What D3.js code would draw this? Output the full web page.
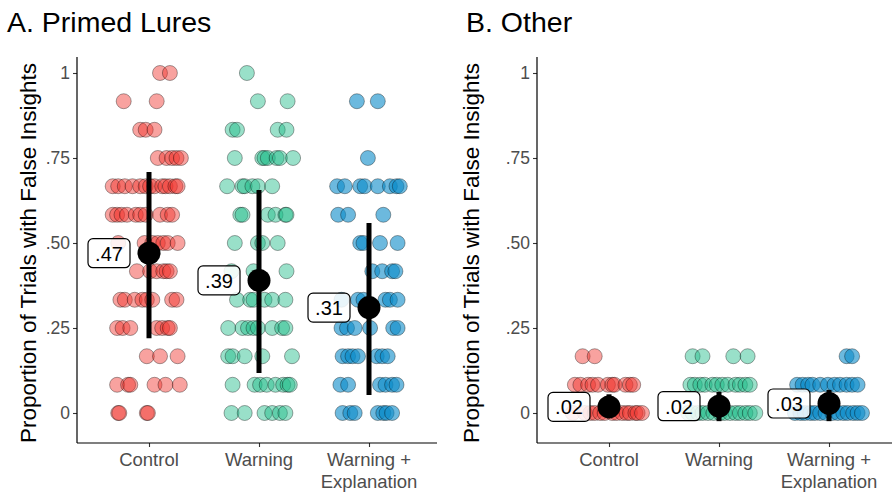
<!DOCTYPE html>
<html><head><meta charset="utf-8">
<script src="https://cdn.jsdelivr.net/npm/d3@7"></script>
<style>body{margin:0;background:#fff;} svg{display:block;font-family:"Liberation Sans",Arial,sans-serif;}</style>
</head><body>
<svg id="chart" width="893" height="493"></svg>
<script>
// ---------- data ----------
const categories = ["Control", "Warning", "Warning + Explanation"];
const categoryLines = [["Control"], ["Warning"], ["Warning +", "Explanation"]];
const yTicks = [0, 0.25, 0.5, 0.75, 1];
const yTickLabels = ["0", ".25", ".50", ".75", "1"];
const panelTitles = ["A. Primed Lures", "B. Other"];
const yAxisTitle = "Proportion of Trials with False Insights";

// rows: [proportion, [horizontal jitter in category steps]]
const lureControl = [
  [1, [.10, .19]], [.917, [-.23, .07]], [.833, [-.08, -.03, .05]],
  [.75, [.08, .16, .21, .25, .29]],
  [.667, [-.33, -.28, -.22, -.15, -.08, -.03, .01, .05, .12, .15, .19, .24, .26]],
  [.583, [-.33, -.29, -.25, -.2, -.12, -.08, -.03, .1, .17, .21]],
  [.5, [-.28, -.04, .03, .08, .13, .17, .26]],
  [.417, [-.11, .01, .07, .13, .16, .19]],
  [.333, [-.26, -.22, -.13, -.06, -.02, .03, .21, .25]],
  [.25, [-.29, -.24, -.17, .07, .12, .17, .19]],
  [.167, [-.02, .1, .26]],
  [.083, [-.29, -.19, -.17, .05, .15, .28]],
  [0, [-.28, -.27, -.02, -.01]]
];
const lureWarning = [
  [1, [-.11]], [.917, [-.01, .26]], [.833, [-.24, -.2, .17, .25]],
  [.75, [-.22, .03, .05, .08, .16, .19, .31]],
  [.667, [-.29, -.15, -.13, -.06, -.01, .12]],
  [.583, [-.17, -.15, .08, .15, .24, .25]],
  [.5, [-.22, -.01, .03, .17]],
  [.417, [-.25, -.05, .25]],
  [.333, [-.2, -.08, -.05, .05, .12, .24]],
  [.25, [-.28, -.15, -.1, -.05, -.01, .12, .21, .24]],
  [.167, [-.28, -.24, -.13, .03, .3]],
  [.083, [-.24, -.04, .01, .07, .15, .22, .26, .28]],
  [0, [-.25, -.13, .05, .12, .19, .24]]
];
const lureExplanation = [
  [.917, [-.11, .08]], [.75, [-.01]],
  [.667, [-.29, -.22, -.08, -.04, .08, .19, .25, .28]],
  [.583, [-.28, -.19, .13]],
  [.5, [-.08, -.05, .1, .26]],
  [.417, [.03, .12, .21, .24]],
  [.333, [-.25, -.1, -.05, .15, .19, .26]],
  [.25, [-.25, -.2, -.13, .01, .22, .26]],
  [.167, [-.24, -.19, -.15, -.1, .07, .12, .17]],
  [.083, [-.26, -.19, .1, .15, .21, .25]],
  [0, [-.24, -.17, -.13, .08, .13, .16, .21]]
];
const otherControl = [
  [.167, [-.24, -.13]],
  [.083, [-.31, -.26, -.19, -.15, -.1, -.01, .03, .05, .15, .19, .22]],
  [0, [-.33, -.22, -.17, -.13, -.08, -.04, .03, .07, .12, .16, .19, .24, .26, .3]]
];
const otherWarning = [
  [.167, [-.24, -.15, .13, .26]],
  [.083, [-.26, -.22, -.17, -.13, -.06, -.02, .03, .08, .15, .19, .24, .28]],
  [0, [-.28, -.24, -.19, -.15, -.1, -.05, .01, .05, .1, .15, .19, .24, .28, .33]]
];
const otherExplanation = [
  [.167, [.16, .21]],
  [.083, [-.29, -.24, -.19, -.15, -.08, -.01, .05, .1, .16, .21, .26]],
  [0, [-.31, -.26, -.22, -.17, -.13, -.08, -.03, .03, .08, .13, .17, .22, .26, .3]]
];

const lureMeans = [.47, .39, .31];
const lureLow = [.22, .118, .053];
const lureHigh = [.709, .656, .559];
const lureMeanLabels = [".47", ".39", ".31"];

const otherMeans = [.018, .02, .028];
const otherLow = [-.015, -.024, -.024];
const otherHigh = [.055, .062, .068];
const otherMeanLabels = [".02", ".02", ".03"];

const groupColors = ["#f0302a", "#1dba88", "#0a8ac8"];
const groupOpacity = [0.45, 0.45, 0.6];

// ---------- drawing ----------
const svg = d3.select("#chart");

const panels = [
  {title: panelTitles[0], titleX: 7, axisX: 77, right: 437, first: 149, last: 369, labelX: 28,
   groups: [lureControl, lureWarning, lureExplanation], means: lureMeans, low: lureLow, high: lureHigh, lbl: lureMeanLabels},
  {title: panelTitles[1], titleX: 466, axisX: 537, right: 892, first: 609, last: 829, labelX: 471,
   groups: [otherControl, otherWarning, otherExplanation], means: otherMeans, low: otherLow, high: otherHigh, lbl: otherMeanLabels}
];

const y = d3.scaleLinear().domain([0, 1]).range([413, 73]);
const yTop = 57, yBottom = 443;

panels.forEach(p => {
  const g = svg.append("g");
  const x = d3.scalePoint().domain(categories).range([p.first, p.last]);
  const step = x.step();

  // title
  g.append("text").attr("x", p.titleX).attr("y", 32).attr("font-size", 28.5)
    .attr("fill", "#000").text(p.title);

  // y axis title
  g.append("text").attr("transform", `translate(${p.labelX},${253}) rotate(-90)`)
    .attr("text-anchor", "middle").attr("dominant-baseline", "central")
    .attr("font-size", 22.5).attr("fill", "#000").text(yAxisTitle);

  // y axis
  const ya = d3.axisLeft(y).tickValues(yTicks).tickFormat((d, i) => yTickLabels[i]).tickSize(4).tickSizeOuter(0);
  const yg = g.append("g").attr("transform", `translate(${p.axisX},0)`).call(ya);
  yg.select(".domain").remove();
  yg.selectAll(".tick line").attr("stroke", "#333").attr("stroke-width", 1.1);
  yg.selectAll(".tick text").attr("fill", "#4d4d4d").attr("font-size", 17.5)
    .attr("font-family", "Liberation Sans, Arial, sans-serif").attr("x", -7);
  g.append("line").attr("x1", p.axisX).attr("x2", p.axisX).attr("y1", yTop).attr("y2", yBottom)
    .attr("stroke", "#000").attr("stroke-width", 1.2);

  // x axis
  const xa = d3.axisBottom(x).tickSize(4).tickSizeOuter(0).tickFormat("");
  const xg = g.append("g").attr("transform", `translate(0,${yBottom})`).call(xa);
  xg.select(".domain").remove();
  xg.selectAll(".tick line").attr("stroke", "#333").attr("stroke-width", 1.1);
  g.append("line").attr("x1", p.axisX).attr("x2", p.right).attr("y1", yBottom).attr("y2", yBottom)
    .attr("stroke", "#000").attr("stroke-width", 1.2);
  categories.forEach((c, i) => {
    const t = g.append("text").attr("x", x(c)).attr("y", 466).attr("text-anchor", "middle")
      .attr("font-size", 18.5).attr("fill", "#4d4d4d");
    categoryLines[i].forEach((ln, j) => {
      t.append("tspan").attr("x", x(c)).attr("dy", j === 0 ? 0 : 22).text(ln);
    });
  });

  // points
  p.groups.forEach((rows, gi) => {
    const pts = [];
    rows.forEach(([v, js]) => js.forEach(j => pts.push({v, j})));
    g.append("g").selectAll("circle").data(pts).join("circle")
      .attr("cx", d => x(categories[gi]) + d.j * step)
      .attr("cy", d => y(d.v))
      .attr("r", 7.5)
      .attr("fill", groupColors[gi]).attr("fill-opacity", groupOpacity[gi])
      .attr("stroke", "#000").attr("stroke-opacity", 0.35).attr("stroke-width", 1);
  });

  // summary
  categories.forEach((c, i) => {
    const cx = x(c);
    g.append("line").attr("x1", cx).attr("x2", cx).attr("y1", y(p.low[i])).attr("y2", y(p.high[i]))
      .attr("stroke", "#000").attr("stroke-width", 5);
    g.append("circle").attr("cx", cx).attr("cy", y(p.means[i])).attr("r", 11.5).attr("fill", "#000");
    const lx = cx - 40, ly = y(p.means[i]);
    g.append("rect").attr("x", lx - 21).attr("y", ly - 14.5).attr("width", 42).attr("height", 29)
      .attr("rx", 5).attr("fill", "#fff").attr("fill-opacity", 0.85)
      .attr("stroke", "#000").attr("stroke-width", 1.2);
    g.append("text").attr("x", lx).attr("y", ly + 0.5).attr("text-anchor", "middle")
      .attr("dominant-baseline", "central").attr("font-size", 20).attr("fill", "#000").text(p.lbl[i]);
  });
});
</script>
</body></html>
